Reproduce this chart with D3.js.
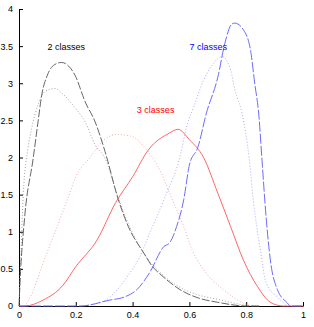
<!DOCTYPE html>
<html>
<head>
<meta charset="utf-8">
<script src="https://cdn.jsdelivr.net/npm/d3@7"></script>
<style>
body { margin: 0; background: #fff; }
text { font-family: "Liberation Sans", Arial, sans-serif; }
</style>
</head>
<body>
<div id="chart-area"></div>
<script>
// values
var xTicks = [0, 0.2, 0.4, 0.6, 0.8, 1];
var yTicks = [0, 0.5, 1, 1.5, 2, 2.5, 3, 3.5, 4];

var black1X = [0, 0.004, 0.02, 0.05, 0.067, 0.08, 0.10, 0.125, 0.15, 0.175, 0.197, 0.233, 0.268, 0.303, 0.35, 0.385, 0.44, 0.47, 0.50, 0.567, 0.63, 0.70, 0.80, 0.85];
var black1Y = [0, 0.35, 1.2, 1.99, 2.48, 2.84, 3.11, 3.25, 3.28, 3.23, 3.11, 2.75, 2.48, 2.08, 1.43, 1.07, 0.71, 0.53, 0.42, 0.22, 0.11, 0.05, 0.0, 0];
var black2X = [0, 0.005, 0.015, 0.032, 0.045, 0.067, 0.092, 0.127, 0.15, 0.197, 0.233, 0.268, 0.303, 0.35, 0.40, 0.46, 0.50, 0.567, 0.63, 0.70, 0.80, 0.85];
var black2Y = [0, 0.5, 1.5, 2.13, 2.4, 2.71, 2.89, 2.93, 2.87, 2.67, 2.48, 2.17, 1.99, 1.45, 0.98, 0.6, 0.44, 0.25, 0.15, 0.09, 0.01, 0];

var red1X = [0, 0.02, 0.085, 0.155, 0.20, 0.275, 0.34, 0.40, 0.455, 0.53, 0.56, 0.60, 0.65, 0.70, 0.745, 0.79, 0.84, 0.885, 0.93, 1];
var red1Y = [0, 0, 0.08, 0.28, 0.53, 0.89, 1.39, 1.74, 2.1, 2.33, 2.38, 2.24, 2.0, 1.52, 1.07, 0.62, 0.26, 0.05, 0, 0];
var red2X = [0.02, 0.04, 0.085, 0.12, 0.17, 0.20, 0.25, 0.30, 0.345, 0.40, 0.44, 0.47, 0.50, 0.53, 0.58, 0.61, 0.66, 0.72, 0.77, 0.815];
var red2Y = [0, 0.12, 0.58, 0.93, 1.43, 1.74, 2.0, 2.24, 2.31, 2.28, 2.15, 2.0, 1.8, 1.52, 1.07, 0.75, 0.44, 0.22, 0.08, 0];

var blue1X = [0, 0.215, 0.32, 0.37, 0.415, 0.46, 0.51, 0.53, 0.555, 0.58, 0.60, 0.63, 0.66, 0.70, 0.725, 0.75, 0.76, 0.79, 0.815, 0.83, 0.845, 0.855, 0.87, 0.885, 0.91, 0.945, 0.955, 1];
var blue1Y = [0, 0, 0.08, 0.12, 0.22, 0.45, 0.8, 0.85, 1.07, 1.43, 1.9, 2.14, 2.6, 3.08, 3.54, 3.8, 3.81, 3.72, 3.45, 3.0, 2.55, 2.0, 1.2, 0.62, 0.22, 0.04, 0, 0];
var blue2X = [0.22, 0.26, 0.32, 0.38, 0.425, 0.46, 0.51, 0.57, 0.59, 0.615, 0.65, 0.685, 0.715, 0.745, 0.76, 0.785, 0.81, 0.825, 0.85, 0.87, 0.91, 0.945];
var blue2Y = [0, 0.02, 0.12, 0.39, 0.66, 0.98, 1.43, 2.06, 2.41, 2.68, 3.04, 3.27, 3.36, 3.18, 2.91, 2.6, 2.0, 1.43, 0.75, 0.31, 0.12, 0];

var labelNames = ["2 classes", "3 classes", "7 classes"];
var labelX = [0.1, 0.415, 0.60];
var labelY = [3.45, 2.6, 3.45];

var width = 314, height = 327;

var svg = d3.select('#chart-area').append('svg')
    .attr('width', width)
    .attr('height', height);

var theX = d3.scaleLinear().domain([0, 1]).range([19, 303]);
var theY = d3.scaleLinear().domain([0, 4]).range([306, 9]);

var axisX = d3.axisBottom(theX)
    .tickValues(xTicks)
    .tickSizeInner(-4)
    .tickSizeOuter(0)
    .tickPadding(6)
    .tickFormat(function(d){ return d; });
svg.append('g')
    .attr('transform', 'translate(0,306)')
    .call(axisX);

var axisY = d3.axisLeft(theY)
    .tickValues(yTicks)
    .tickSizeInner(-4)
    .tickSizeOuter(0)
    .tickPadding(6)
    .tickFormat(function(d){ return d; });
svg.append('g')
    .attr('transform', 'translate(19,0)')
    .call(axisY);

svg.selectAll('.domain').attr('stroke', '#000').attr('stroke-width', 1);
svg.selectAll('.tick line').attr('stroke', '#000');
svg.selectAll('.tick text').attr('font-size', 9).attr('fill', '#000')
    .attr('font-family', '"Liberation Sans", Arial, sans-serif');

var line = d3.line()
    .x(function(d){ return theX(d[0]); })
    .y(function(d){ return theY(d[1]); })
    .curve(d3.curveMonotoneX);

function zip(xs, ys) {
    return xs.map(function(x, i){ return [x, ys[i]]; });
}

var series = [
    {x: black2X, y: black2Y, color: '#999', dash: '1,2'},
    {x: red2X, y: red2Y, color: '#f9a0a0', dash: '1,2'},
    {x: blue2X, y: blue2Y, color: '#a0a0ff', dash: '1,2'},
    {x: black1X, y: black1Y, color: '#555', dash: '8,2'},
    {x: red1X, y: red1Y, color: '#f55', dash: null},
    {x: blue1X, y: blue1Y, color: '#5a5aff', dash: '10,2'}
];

series.forEach(function(s){
    svg.append('path')
        .attr('d', line(zip(s.x, s.y)))
        .attr('fill', 'none')
        .attr('stroke', s.color)
        .attr('stroke-width', 0.9)
        .attr('stroke-dasharray', s.dash);
});

var labelColors = ['#000', '#f00', '#00f'];
labelNames.forEach(function(t, i){
    svg.append('text')
        .attr('x', theX(labelX[i]))
        .attr('y', theY(labelY[i]))
        .attr('font-size', 9)
        .attr('fill', labelColors[i])
        .text(t);
});
</script>
</body>
</html>
